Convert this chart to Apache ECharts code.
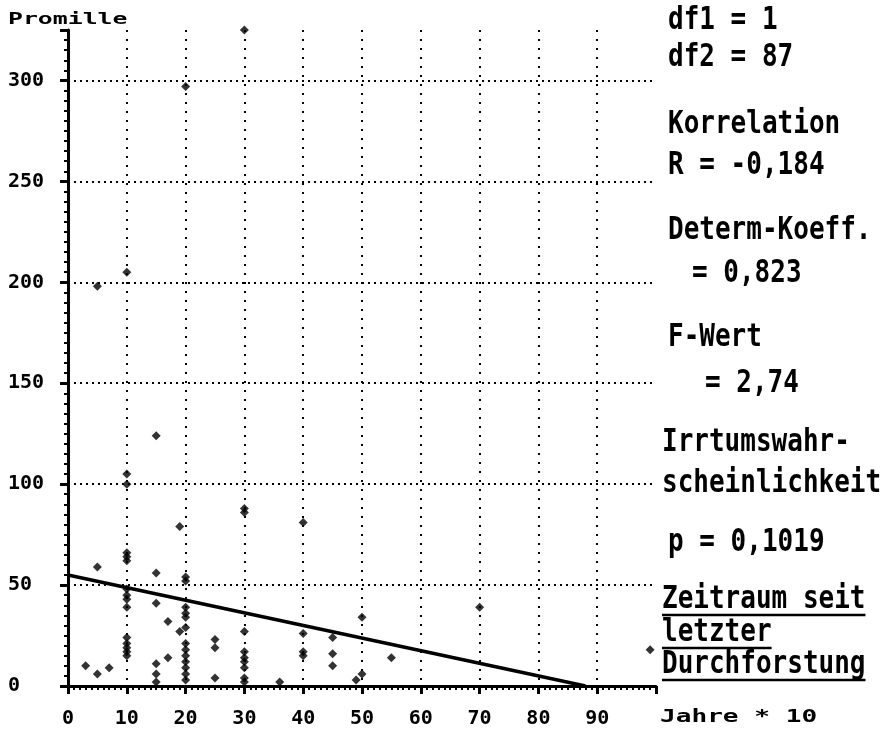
<!DOCTYPE html>
<html>
<head>
<meta charset="utf-8">
<script src="https://cdn.jsdelivr.net/npm/echarts@6/dist/echarts.min.js"></script>
<style>
  html, body { margin: 0; padding: 0; background: #fff; }
  #chart { width: 888px; height: 729px; }
</style>
</head>
<body>
<div id="chart"></div>
<script>
// Tick values shown on the axes
const xTicks = [0, 10, 20, 30, 40, 50, 60, 70, 80, 90];
const yTicks = [0, 50, 100, 150, 200, 250, 300];

// Observations: years since last thinning (x10) and damage in per mille
const years = [
  3, 5, 5, 5, 7,
  10, 10, 10, 10, 10, 10, 10, 10, 10, 10, 10, 10, 10, 10, 10,
  15, 15, 15, 15, 15, 15,
  17, 17, 19, 19,
  20, 20, 20, 20, 20, 20, 20, 20, 20, 20, 20, 20, 20, 20,
  25, 25, 25,
  30, 30, 30, 30, 30, 30, 30, 30, 30, 30,
  36,
  40, 40, 40, 40,
  45, 45, 45,
  49, 50, 50, 55, 70, 99
];
const promille = [
  10, 59, 6, 198, 9,
  205, 105, 100, 66, 64, 62, 48, 45, 43, 39, 24, 21, 19, 17, 15,
  124, 56, 41, 11, 6, 2,
  32, 14, 79, 27,
  297, 54, 52, 39, 36, 34, 29, 21, 18, 15, 12, 9, 6, 3,
  23, 19, 4,
  325, 88, 86, 27, 17, 14, 12, 9, 4, 2,
  2,
  81, 26, 17, 15,
  24, 16, 10,
  3, 34, 6, 14, 39, 18
];

// Regression line end points
const fitYears = [0, 88];
const fitPromille = [55, 0];

// Statistics panel text
const statTexts = [
  'df1 = 1',
  'df2 = 87',
  'Korrelation',
  'R = -0,184',
  'Determ-Koeff.',
  '= 0,823',
  'F-Wert',
  '= 2,74',
  'Irrtumswahr-',
  'scheinlichkeit',
  'p = 0,1019',
  'Zeitraum seit',
  'letzter',
  'Durchforstung'
];
const axisTitleY = 'Promille';
const axisTitleX = 'Jahre * 10';

// Layout of the statistics panel: [x, centre y, underlined]
const statLayout = [
  [668, 21, false], [668, 58, false],
  [668, 125, false], [668, 166, false],
  [668, 231, false], [692, 274, false],
  [668, 338, false], [705, 384, false],
  [662, 443, false], [662, 484, false],
  [668, 543, false],
  [662, 600, true], [662, 633, true], [662, 665, true]
];

const INK = '#000';
const MONO = "'DejaVu Sans Mono', monospace";
const CHAR_W = 26 * 0.602;

const points = years.map((x, i) => [x, promille[i]]);
const fitLine = fitYears.map((x, i) => [x, fitPromille[i]]);

const graphics = [];
statTexts.forEach((t, i) => {
  const [x, y, ul] = statLayout[i];
  graphics.push({
    type: 'text', x: x, y: y, scaleY: 1.22, silent: true,
    style: { text: t, fill: INK, font: 'bold 26px ' + MONO, verticalAlign: 'middle', align: 'left' }
  });
  if (ul) {
    graphics.push({
      type: 'line', silent: true,
      shape: { x1: x, y1: y + 15, x2: x + t.length * CHAR_W, y2: y + 15 },
      style: { stroke: INK, lineWidth: 2.5 }
    });
  }
});
graphics.push({
  type: 'text', x: 8, y: 20, scaleX: 1.55, silent: true,
  style: { text: axisTitleY, fill: INK, font: 'bold 16px ' + MONO, verticalAlign: 'middle' }
});
graphics.push({
  type: 'text', x: 660, y: 717, scaleX: 1.45, silent: true,
  style: { text: axisTitleX, fill: INK, font: 'bold 18px ' + MONO, verticalAlign: 'middle' }
});

const chart = echarts.init(document.getElementById('chart'), null, { renderer: 'canvas' });
chart.setOption({
  backgroundColor: '#fff',
  animation: false,
  grid: { left: 68, right: 232, top: 30, bottom: 43, containLabel: false },
  xAxis: {
    type: 'value', min: 0, max: 100, interval: 10,
    axisLine: { show: true, onZero: false, lineStyle: { color: INK, width: 3 } },
    axisTick: { show: true, length: 8, lineStyle: { color: INK, width: 3 } },
    minorTick: { show: true, splitNumber: 10, length: 4, lineStyle: { color: INK, width: 2 } },
    splitLine: { show: true, showMinLine: false, showMaxLine: false,
      lineStyle: { color: INK, width: 2, type: [2, 7] } },
    axisLabel: {
      margin: 23, color: INK, fontFamily: MONO, fontWeight: 'bold', fontSize: 20,
      formatter: v => xTicks.includes(v) ? String(v) : ''
    }
  },
  yAxis: {
    type: 'value', min: 0, max: 325, interval: 50,
    axisLine: { show: true, onZero: false, lineStyle: { color: INK, width: 3 } },
    axisTick: { show: true, length: 8, lineStyle: { color: INK, width: 3 } },
    minorTick: { show: true, splitNumber: 10, length: 4, lineStyle: { color: INK, width: 2 } },
    splitLine: { show: true, showMinLine: false, showMaxLine: false,
      lineStyle: { color: INK, width: 2, type: [2, 4] } },
    axisLabel: {
      margin: 60, align: 'left', color: INK, fontFamily: MONO, fontWeight: 'bold', fontSize: 20,
      formatter: v => yTicks.includes(v) ? String(v) : ''
    }
  },
  series: [
    {
      type: 'line', data: fitLine, symbol: 'none', silent: true,
      lineStyle: { color: INK, width: 3.5 }, z: 3
    },
    {
      type: 'scatter', data: points, symbol: 'diamond', symbolSize: 9, clip: false,
      itemStyle: { color: INK }, z: 4
    }
  ],
  graphic: graphics
});
</script>
</body>
</html>
